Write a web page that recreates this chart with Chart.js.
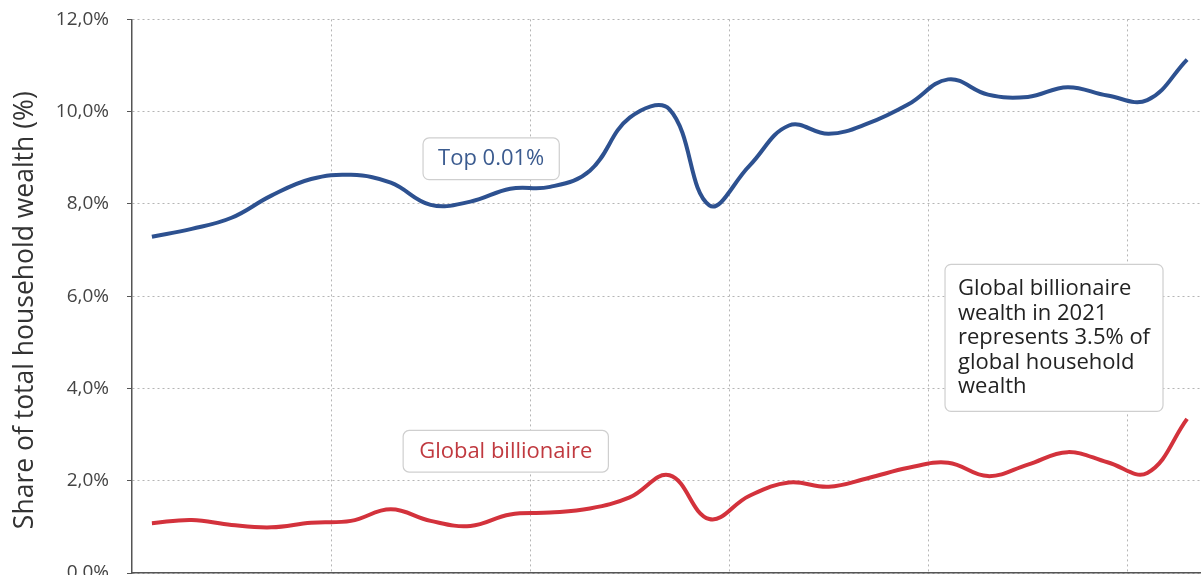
<!DOCTYPE html>
<html>
<head>
<meta charset="utf-8">
<script src="https://cdn.jsdelivr.net/npm/chart.js@4.4.1/dist/chart.umd.min.js"></script>
<style>
  html, body { margin: 0; padding: 0; background: #fff; overflow: hidden; }
  #wrap { width: 1230px; height: 630px; margin-top: -10px; }
</style>
</head>
<body>
<div id="wrap"><canvas id="wealth" width="1230" height="630"></canvas></div>
<script>
// yearly shares of global household wealth, in %
years = ['1995','1996','1997','1998','1999','2000','2001','2002','2003','2004','2005','2006','2007','2008',
         '2009','2010','2011','2012','2013','2014','2015','2016','2017','2018','2019','2020','2021']
top001 = [7.29, 7.46, 7.70, 8.18, 8.54, 8.63, 8.46, 7.98, 8.05, 8.33, 8.37, 8.72, 9.87, 10.05,
          7.97, 8.82, 9.70, 9.52, 9.75, 10.16, 10.70, 10.37, 10.32, 10.53, 10.35, 10.25, 11.13]
billionaire = [1.08, 1.15, 1.04, 0.99, 1.09, 1.13, 1.38, 1.13, 1.02, 1.27, 1.31, 1.40, 1.64, 2.12,
               1.17, 1.67, 1.96, 1.87, 2.06, 2.28, 2.39, 2.10, 2.35, 2.62, 2.40, 2.17, 3.34]
yTicks = [0, 2, 4, 6, 8, 10, 12]
yTitle = 'Share of total household wealth (%)'

FONT = '"Open Sans", sans-serif'

// text boxes, anchored on the data scales (x = year index, y = share)
notes = [
  { lines: ['Top 0.01%'], x: 6.81, y: 9.43, color: '#3b5b8f', padX: 15, padY: 8.5 },
  { lines: ['Global billionaire'], x: 6.31, y: 3.09, color: '#c0393f', padX: 16, padY: 8.5 },
  { lines: ['Global billionaire', 'wealth in 2021', 'represents 3.5% of', 'global household', 'wealth'],
    x: 19.92, y: 6.69, color: '#222', padX: 13, padY: 12 }
]

const notesPlugin = {
  id: 'notes',
  afterDatasetsDraw(chart) {
    const ctx = chart.ctx
    const xs = chart.scales.x, ys = chart.scales.y
    const lh = 24.6
    ctx.save()
    ctx.font = '22px ' + FONT
    notes.forEach(n => {
      const left = xs.getPixelForValue(n.x)
      const top = ys.getPixelForValue(n.y)
      const w = Math.max(...n.lines.map(l => ctx.measureText(l).width)) + 2 * n.padX
      const h = n.lines.length * lh + 2 * n.padY
      ctx.beginPath()
      ctx.roundRect(left, top, w, h, 6)
      ctx.fillStyle = '#fff'
      ctx.fill()
      ctx.strokeStyle = '#cfcfcf'
      ctx.lineWidth = 1.2
      ctx.stroke()
      ctx.fillStyle = n.color
      ctx.textBaseline = 'middle'
      ctx.textAlign = 'left'
      n.lines.forEach((l, k) => ctx.fillText(l, left + n.padX, top + n.padY + lh * (k + 0.5)))
    })
    ctx.restore()
  }
}

// rotated y axis title, centred a little below the middle of the plot
const yTitlePlugin = {
  id: 'yTitle',
  afterDraw(chart) {
    const ctx = chart.ctx
    const a = chart.chartArea
    ctx.save()
    ctx.translate(33, (a.top + a.bottom) / 2 + 14)
    ctx.rotate(-Math.PI / 2)
    ctx.font = '26.5px ' + FONT
    ctx.fillStyle = '#333'
    ctx.textAlign = 'center'
    ctx.textBaseline = 'alphabetic'
    ctx.fillText(yTitle, 0, 0)
    ctx.restore()
  }
}

canvas = document.querySelector('#wealth')
const chart = new Chart(canvas, {
  type: 'line',
  data: {
    labels: years,
    datasets: [
      { label: 'Top 0.01%', data: top001, borderColor: '#2d5190', borderWidth: 4,
        pointRadius: 0, tension: 0.4, fill: false },
      { label: 'Global billionaire', data: billionaire, borderColor: '#d3323c', borderWidth: 4,
        pointRadius: 0, tension: 0.4, fill: false }
    ]
  },
  options: {
    responsive: false,
    animation: false,
    layout: { padding: { top: 8, right: 23, left: 0, bottom: 0 } },
    plugins: { legend: { display: false }, tooltip: { enabled: false } },
    scales: {
      x: {
        offset: true,
        grid: {
          offset: true,
          color: c => (c.index % 5 === 0 ? '#b5b5b5' : 'rgba(0,0,0,0)'),
          tickColor: 'rgba(0,0,0,0)',
          tickLength: 5
        },
        border: { color: '#555', width: 1.5, dash: [2, 3] },
        ticks: {
          autoSkip: false, maxRotation: 0,
          font: { family: FONT, size: 19 }, color: '#444',
          callback: function (v, i) { return i % 5 === 0 ? years[i] : '' }
        },
        afterFit: s => { s.height = 47 }
      },
      y: {
        min: 0, max: 12,
        afterBuildTicks: s => { s.ticks = yTicks.map(v => ({ value: v })) },
        grid: { color: '#b5b5b5', tickColor: '#555', tickLength: 5 },
        border: { color: '#555', width: 1.5, dash: [2, 3] },
        ticks: {
          padding: 18,
          font: { family: FONT, size: 19 }, color: '#444',
          callback: v => v.toFixed(1).replace('.', ',') + '%'
        },
        afterFit: s => { s.width = 132 }
      }
    }
  },
  plugins: [notesPlugin, yTitlePlugin]
})
</script>
</body>
</html>
